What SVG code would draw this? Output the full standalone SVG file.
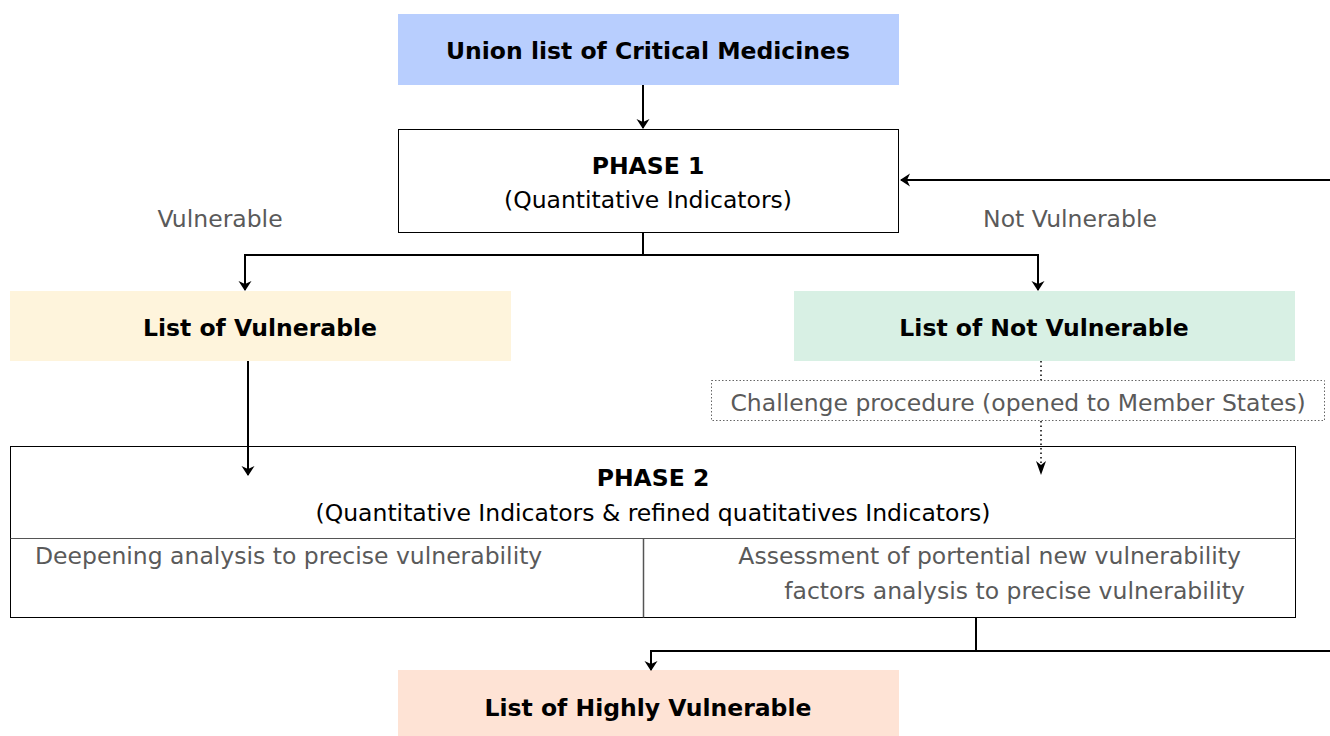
<svg xmlns="http://www.w3.org/2000/svg" width="1330" height="736" viewBox="0 0 1330 736">
<defs>
<marker id="ah" markerWidth="10" markerHeight="14" refX="9" refY="7" orient="auto" markerUnits="userSpaceOnUse">
<path d="M0,0.5 L10,7 L0,13.5 L3,7 z" fill="#000"/>
</marker>
<style>
.t{font-family:"DejaVu Sans","Liberation Sans",sans-serif;text-anchor:middle}
.b{font-weight:bold;font-size:23.5px;fill:#000}
.r{font-size:23.5px;fill:#000}
.g{font-size:23.5px;fill:#5a5a5a}
.ln{fill:none;stroke:#000;stroke-width:2}
.dt{fill:none;stroke:#000;stroke-width:1.5;stroke-dasharray:1.5 3}
</style>
</defs>
<rect width="1330" height="736" fill="#fff"/>
<g id="union">
<rect x="398" y="14" width="501" height="71" fill="#b8cefe"/>
<text class="t b" x="648" y="59">Union list of Critical Medicines</text>
</g>
<g id="phase1">
<rect x="398.5" y="129.5" width="500" height="103" fill="#fff" stroke="#000" stroke-width="1"/>
<text class="t b" x="648" y="174">PHASE 1</text>
<text class="t r" x="648" y="208">(Quantitative Indicators)</text>
</g>
<g id="label-vulnerable"><text class="t g" x="220" y="227">Vulnerable</text></g>
<g id="label-not-vulnerable"><text class="t g" x="1070" y="227">Not Vulnerable</text></g>
<g id="list-vulnerable">
<rect x="10" y="291" width="501" height="70" fill="#fef4dc"/>
<text class="t b" x="260" y="336">List of Vulnerable</text>
</g>
<g id="list-not-vulnerable">
<rect x="794" y="291" width="501" height="70" fill="#d8f0e4"/>
<text class="t b" x="1044" y="336">List of Not Vulnerable</text>
</g>
<g id="challenge">
<rect x="711.5" y="380.5" width="613" height="40" fill="none" stroke="#666" stroke-width="1" stroke-dasharray="1.5 2"/>
<text class="t g" x="1018" y="411">Challenge procedure (opened to Member States)</text>
</g>
<g id="phase2">
<rect x="10.5" y="446.5" width="1285" height="171" fill="#fff" stroke="#000" stroke-width="1"/>
<line x1="10.5" y1="538.5" x2="1295.5" y2="538.5" stroke="#555" stroke-width="1"/>
<line x1="643.5" y1="538.5" x2="643.5" y2="617.5" stroke="#555" stroke-width="1.5"/>
<text class="t b" x="653" y="486">PHASE 2</text>
<text class="t r" x="653" y="521">(Quantitative Indicators &amp; refined quatitatives Indicators)</text>
<text class="t g" x="35" y="564" style="text-anchor:start">Deepening analysis to precise vulnerability</text>
<text class="t g" x="1241" y="564" style="text-anchor:end">Assessment of portential new vulnerability</text>
<text class="t g" x="1245" y="599" style="text-anchor:end">factors analysis to precise vulnerability</text>
</g>
<g id="list-highly-vulnerable">
<rect x="398" y="670" width="501" height="66" fill="#fee3d5"/>
<text class="t b" x="648" y="716">List of Highly Vulnerable</text>
</g>
<g id="connectors">
<path class="ln" d="M643,85 V128" marker-end="url(#ah)"/>
<path class="ln" d="M643,232 V255 H245 V290" marker-end="url(#ah)"/>
<path class="ln" d="M643,255 H1038 V290" marker-end="url(#ah)"/>
<path class="ln" d="M1330,180 H901" marker-end="url(#ah)"/>
<path class="ln" d="M248,361 V475" marker-end="url(#ah)"/>
<path class="dt" d="M1041,361 V380"/>
<path class="dt" d="M1041,421 V472"/>
<path d="M1036,461 L1041,475 L1046,461 L1041,465 z" fill="#000"/>
<path class="ln" d="M976,618 V651 H651 V670" marker-end="url(#ah)"/>
<path class="ln" d="M976,651 H1330"/>
</g>
</svg>
